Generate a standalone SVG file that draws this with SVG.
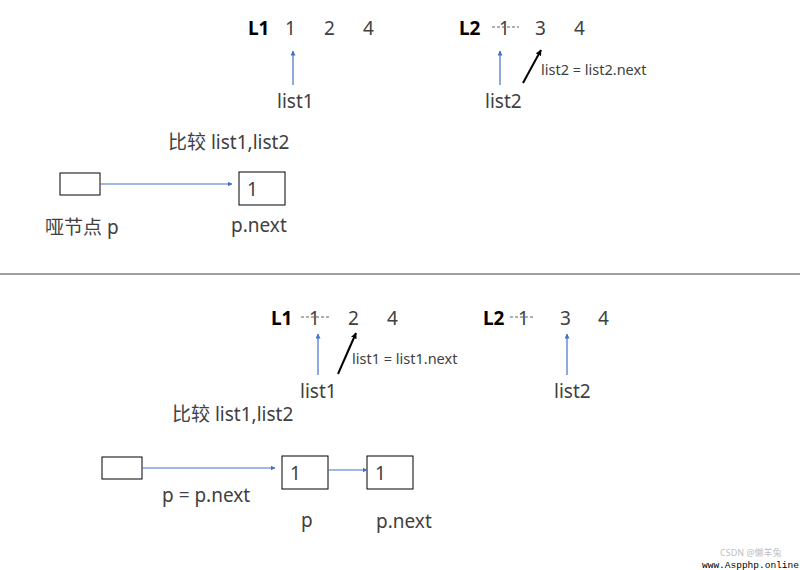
<svg xmlns="http://www.w3.org/2000/svg" width="800" height="570" viewBox="0 0 800 570">
<defs>
<marker id="ab" viewBox="0 0 10 10" refX="9" refY="5" markerWidth="5" markerHeight="5" orient="auto" markerUnits="userSpaceOnUse">
<path d="M0,0 L10,5 L0,10 z" fill="#4472c4"/>
</marker>
<marker id="ak" viewBox="0 0 10 10" refX="9" refY="5" markerWidth="6" markerHeight="6" orient="auto" markerUnits="userSpaceOnUse">
<path d="M0,0 L10,5 L0,10 z" fill="#000"/>
</marker>
</defs>
<style>
text{font-family:"Noto Sans","Noto Sans CJK SC",sans-serif;fill:#404040}
.b{font-weight:bold;fill:#000;font-size:19px}
.n{font-size:19px}
.l{font-size:19px}
.s{font-size:14.5px}
.box{fill:#fff;stroke:#000;stroke-width:1}
.bl{stroke:#4472c4;stroke-width:1.2;fill:none;marker-end:url(#ab)}
.bk{stroke:#000;stroke-width:2;fill:none;marker-end:url(#ak)}
.strike{stroke:#606060;stroke-width:1;stroke-dasharray:3 2}
</style>
<rect width="800" height="570" fill="#fff"/>

<g id="top-lists">
<text class="b" x="248" y="35">L1</text>
<text class="n" x="285" y="35">1</text>
<text class="n" x="324" y="35">2</text>
<text class="n" x="363" y="35">4</text>
<text class="b" x="459" y="35">L2</text>
<text class="n" x="499" y="35" fill="#606060">1</text>
<line class="strike" x1="492" y1="27" x2="519" y2="27"/>
<text class="n" x="535" y="35">3</text>
<text class="n" x="574" y="35">4</text>
<text class="l" x="277" y="108">list1</text>
<text class="l" x="485" y="108">list2</text>
<text class="s" x="541" y="75">list2 = list2.next</text>
<text class="l" x="168" y="149">比较 list1,list2</text>
</g>

<g id="top-dummy">
<rect class="box" x="60" y="173" width="40" height="22"/>
<text class="l" x="45" y="234">哑节点 p</text>
</g>
<g id="top-node1">
<rect class="box" x="239" y="172" width="46" height="33"/>
<text class="l" x="247" y="196">1</text>
<text class="l" x="231" y="232">p.next</text>
</g>

<line x1="0" y1="274" x2="800" y2="274" stroke="#404040" stroke-width="1.2"/>

<g id="bottom-lists">
<text class="b" x="271" y="325">L1</text>
<text class="n" x="309" y="325" fill="#606060">1</text>
<line class="strike" x1="301" y1="317" x2="331" y2="317"/>
<text class="n" x="348" y="325">2</text>
<text class="n" x="387" y="325">4</text>
<text class="b" x="483" y="325">L2</text>
<text class="n" x="518" y="325" fill="#606060">1</text>
<line class="strike" x1="510" y1="317" x2="535" y2="317"/>
<text class="n" x="560" y="325">3</text>
<text class="n" x="598" y="325">4</text>
<text class="l" x="300" y="398">list1</text>
<text class="l" x="554" y="398">list2</text>
<text class="s" x="352" y="364">list1 = list1.next</text>
<text class="l" x="172" y="421">比较 list1,list2</text>
</g>

<g id="bottom-dummy">
<rect class="box" x="102" y="457" width="40" height="22"/>
<text class="l" x="162" y="502">p = p.next</text>
</g>
<g id="bottom-node1">
<rect class="box" x="282" y="456" width="46" height="33"/>
<text class="l" x="290" y="480">1</text>
<text class="l" x="301" y="527">p</text>
</g>
<g id="bottom-node2">
<rect class="box" x="367" y="456" width="46" height="33"/>
<text class="l" x="375" y="480">1</text>
<text class="l" x="376" y="528">p.next</text>
</g>

<g id="connectors">
<line class="bl" x1="293" y1="85" x2="293" y2="51"/>
<line class="bl" x1="500" y1="85" x2="500" y2="51"/>
<line class="bk" x1="523" y1="83" x2="541" y2="50"/>
<line class="bl" x1="100" y1="184" x2="232" y2="184"/>
<line class="bl" x1="318" y1="375" x2="318" y2="334"/>
<line class="bl" x1="567" y1="375" x2="567" y2="334"/>
<line class="bk" x1="338" y1="374" x2="356" y2="333"/>
<line class="bl" x1="142" y1="468" x2="275" y2="468"/>
<line class="bl" x1="328" y1="470" x2="367" y2="470"/>
</g>

<g id="watermark">
<text x="720" y="556" style="font-size:9px;fill:#c0c0c0">CSDN @懒羊兔</text>
<text x="702" y="568" style="font-family:'Liberation Mono',monospace;font-size:9.5px;fill:#000">www.Aspphp.online</text>
</g>
</svg>
